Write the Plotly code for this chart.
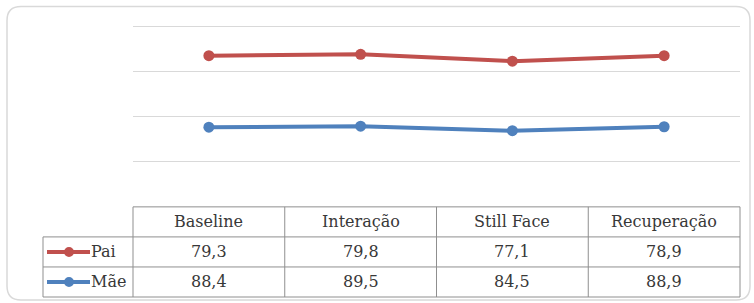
import plotly.graph_objects as go

categories = ["Baseline", "Interação", "Still Face", "Recuperação"]
pai = [79.3, 79.8, 77.1, 78.9]
mae = [88.4, 89.5, 84.5, 88.9]

RED = "#C0504D"
BLUE = "#4F81BD"
W, H = 754, 303
YMAX = 204
L, R, B = 133, 14, 6
T = 27 - (YMAX - 200) * 0.9
PW, PH = W - L - R, H - T - B

def px(x):
    return (x - L) / PW

def py(y):
    return (H - B - y) / PH

fig = go.Figure()
fig.add_trace(go.Scatter(x=categories, y=mae, name="Mãe", stackgroup="s", fill="none",
                         mode="lines+markers", line=dict(color=BLUE, width=4),
                         marker=dict(size=11, color=BLUE)))
fig.add_trace(go.Scatter(x=categories, y=pai, name="Pai", stackgroup="s", fill="none",
                         mode="lines+markers", line=dict(color=RED, width=4),
                         marker=dict(size=11, color=RED)))

shapes = []
annotations = []
grid = "#8f8f8f"
font = dict(family="DejaVu Serif", size=16, color="#383838")

rows = [207, 237, 267, 297]
n = len(categories)
xs = [i / n for i in range(n + 1)]
shapes.append(dict(type="line", xref="paper", yref="paper", x0=0, x1=1, y0=py(rows[0]), y1=py(rows[0]), line=dict(color=grid, width=1)))
for r in rows[1:]:
    shapes.append(dict(type="line", xref="paper", yref="paper", x0=px(43), x1=1, y0=py(r), y1=py(r), line=dict(color=grid, width=1)))
for x in xs:
    shapes.append(dict(type="line", xref="paper", yref="paper", x0=x, x1=x, y0=py(rows[0]), y1=py(rows[3]), line=dict(color=grid, width=1)))
shapes.append(dict(type="line", xref="paper", yref="paper", x0=px(43), x1=px(43), y0=py(rows[1]), y1=py(rows[3]), line=dict(color=grid, width=1)))

for i, c in enumerate(categories):
    annotations.append(dict(xref="paper", yref="paper", x=(i + 0.5) / n, y=py((rows[0] + rows[1]) / 2),
                            xanchor="center", yanchor="middle", text=c, showarrow=False, font=font))

def fmt(v):
    return f"{v:.1f}".replace(".", ",")

for ri, (name, vals, col) in enumerate([("Pai", pai, RED), ("Mãe", mae, BLUE)]):
    yc = (rows[ri + 1] + rows[ri + 2]) / 2
    for i, v in enumerate(vals):
        annotations.append(dict(xref="paper", yref="paper", x=(i + 0.5) / n, y=py(yc),
                                xanchor="center", yanchor="middle",
                                text=fmt(v), showarrow=False, font=font))
    shapes.append(dict(type="line", xref="paper", yref="paper", x0=px(47), x1=px(90), y0=py(yc), y1=py(yc),
                       line=dict(color=col, width=4)))
    shapes.append(dict(type="circle", xref="paper", yref="paper", x0=px(64), x1=px(74), y0=py(yc - 5), y1=py(yc + 5),
                       fillcolor=col, line=dict(color=col, width=0)))
    annotations.append(dict(xref="paper", yref="paper", x=px(89), y=py(yc), xanchor="left", yanchor="middle",
                            text=name, showarrow=False, font=font))

x0, x1, y0, y1 = px(7), px(750), py(300), py(7)
rx, ry = 14 / PW, 14 / PH
path = (f"M {x0+rx},{y1} L {x1-rx},{y1} Q {x1},{y1} {x1},{y1-ry} L {x1},{y0+ry} Q {x1},{y0} {x1-rx},{y0} "
        f"L {x0+rx},{y0} Q {x0},{y0} {x0},{y0+ry} L {x0},{y1-ry} Q {x0},{y1} {x0+rx},{y1} Z")
shapes.append(dict(type="path", xref="paper", yref="paper", path=path, line=dict(color="#d9d9d9", width=1.5), layer="below"))

fig.update_layout(
    width=W, height=H, margin=dict(l=L, r=R, t=T, b=B),
    paper_bgcolor="white", plot_bgcolor="white", showlegend=False,
    shapes=shapes, annotations=annotations,
    xaxis=dict(showticklabels=False, showgrid=False, zeroline=False, showline=False, ticks="",
               range=[-0.5, 3.5]),
    yaxis=dict(domain=[py(207), 1], range=[0, YMAX], tickvals=[50, 100, 150, 200], showticklabels=False,
               showgrid=True, gridcolor="#d9d9d9", gridwidth=1, zeroline=False, showline=False, ticks=""),
)
fig.write_html("out.html", config={"displayModeBar": False},
               post_script="document.body.style.margin='0px';document.body.style.overflow='hidden';")
